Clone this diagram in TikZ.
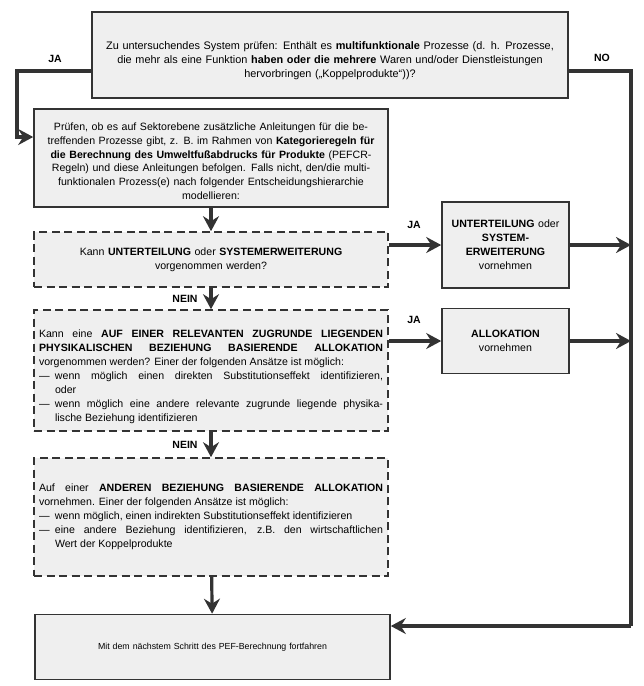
\documentclass[tikz,border=0pt]{standalone}
\usepackage{fontspec}
\setmainfont{Liberation Sans}
\usetikzlibrary{arrows.meta,positioning,calc}

\definecolor{boxfill}{HTML}{EFEFEF}
\definecolor{linegray}{HTML}{333333}

\tikzset{
  box/.style={draw=linegray, line width=1.6pt, fill=boxfill, inner sep=0pt,
    align=center, font=\fontsize{10.6}{13.9}\selectfont},
  decision/.style={box, dash pattern=on 8pt off 4.5pt},
  flow/.style={draw=linegray, line width=3.2pt,
    -{Stealth[length=15pt,width=16pt,inset=5pt]}},
  answer/.style={font=\fontsize{10.5}{12}\selectfont\bfseries},
}
\newcommand{\dashitem}{\par\noindent\hangindent=16pt\hangafter=1\makebox[16pt][l]{—}}

\begin{document}
\begin{tikzpicture}[x=1pt,y=-1pt]
  \useasboundingbox (0,0) rectangle (644,686);

  % boxes
  \node[box, minimum width=476pt, minimum height=86pt, text width=470pt,
    font=\fontsize{10.9}{14}\selectfont] (check) at (330,55)
    {\rule{0pt}{20pt}Zu untersuchendes System prüfen: Enthält es \textbf{multifunktionale} Prozesse (d. h. Prozesse,\\
     die mehr als eine Funktion \textbf{haben oder die mehrere} Waren und/oder Dienstleistungen\\
     hervorbringen („Koppelprodukte“))?};
  \node[box, minimum width=354pt, minimum height=98pt, text width=346pt] (rules) at (211,158)
    {\rule{0pt}{14pt}Prüfen, ob es auf Sektorebene zusätzliche Anleitungen für die be-\\
     treffenden Prozesse gibt, z. B. im Rahmen von \textbf{Kategorieregeln für}\\
     \textbf{die Berechnung des Umweltfußabdrucks für Produkte} (PEFCR-\\
     Regeln) und diese Anleitungen befolgen. Falls nicht, den/die multi-\\
     funktionalen Prozess(e) nach folgender Entscheidungshierarchie\\
     modellieren:};
  \node[decision, minimum width=354pt, minimum height=55pt, text width=346pt] (split) at (211,259.5)
    {Kann \textbf{UNTERTEILUNG} oder \textbf{SYSTEMERWEITERUNG}\\ vorgenommen werden?};
  \node[box, minimum width=127pt, minimum height=86pt, text width=121pt] (divide) at (505.5,245)
    {\textbf{UNTERTEILUNG} oder\\ \textbf{SYSTEM-}\\ \textbf{ERWEITERUNG}\\ vornehmen};
  \node[decision, minimum width=354pt, minimum height=121pt, text width=344pt, inner xsep=5pt,
    align=justify] (physalloc) at (211,370.5)
    {\rule{0pt}{20pt}Kann eine \textbf{AUF EINER RELEVANTEN ZUGRUNDE LIEGENDEN}\linebreak
     \textbf{PHYSIKALISCHEN BEZIEHUNG BASIERENDE ALLOKATION}\linebreak
     vorgenommen werden? Einer der folgenden Ansätze ist möglich:
     \dashitem wenn möglich einen direkten Substitutionseffekt identifizieren,\linebreak oder
     \dashitem wenn möglich eine andere relevante zugrunde liegende physika-\linebreak
     lische Beziehung identifizieren\par};
  \node[box, minimum width=127pt, minimum height=65pt, text width=121pt] (alloc) at (505.5,341)
    {\textbf{ALLOKATION}\\ vornehmen};
  \node[decision, minimum width=354pt, minimum height=118pt, text width=344pt, inner xsep=5pt,
    align=justify] (otheralloc) at (211,517)
    {Auf einer \textbf{ANDEREN BEZIEHUNG BASIERENDE ALLOKATION}\linebreak
     vornehmen. Einer der folgenden Ansätze ist möglich:
     \dashitem wenn möglich, einen indirekten Substitutionseffekt identifizieren
     \dashitem eine andere Beziehung identifizieren, z.B. den wirtschaftlichen\linebreak
     Wert der Koppelprodukte\par};
  \node[box, minimum width=355pt, minimum height=65pt, text width=349pt,
    font=\fontsize{8.8}{12}\selectfont] (next) at (212.5,647)
    {Mit dem nächstem Schritt des PEF-Berechnung fortfahren};

  % corners of the outer lines
  \coordinate (ja top) at (17,71);
  \coordinate (ja in) at (17,137);
  \coordinate (no top) at (631,71);
  \coordinate (no bottom) at (631,626);

  % labels
  \node[answer] (ja check) at (55,59) {JA};
  \node[answer] (no check) at (602,58) {NO};
  \node[answer] (ja split) at (414,225) {JA};
  \node[answer] (ja physalloc) at (414,320) {JA};
  \node[answer] (nein split) at (185,299) {NEIN};
  \node[answer] (nein physalloc) at (185,445) {NEIN};

  % connectors
  \draw[flow] (check.west |- ja top) -- (ja top) -- (ja in) -- (rules.west |- ja in);
  \draw[flow, -] (check.east |- no top) -- (no top) -- (no bottom);
  \draw[flow] (no bottom) -- (next.east |- no bottom);
  \draw[flow] (rules) -- (split);
  \draw[flow] (split) -- (physalloc);
  \draw[flow] (physalloc) -- (otheralloc);
  \draw[flow] (otheralloc) -- (next);
  \draw[flow] (split.east |- divide.west) -- (divide.west);
  \draw[flow] (physalloc.east |- alloc.west) -- (alloc.west);
  \draw[flow] (divide.east) -- (divide.east -| no top);
  \draw[flow] (alloc.east) -- (alloc.east -| no top);
\end{tikzpicture}
\end{document}
